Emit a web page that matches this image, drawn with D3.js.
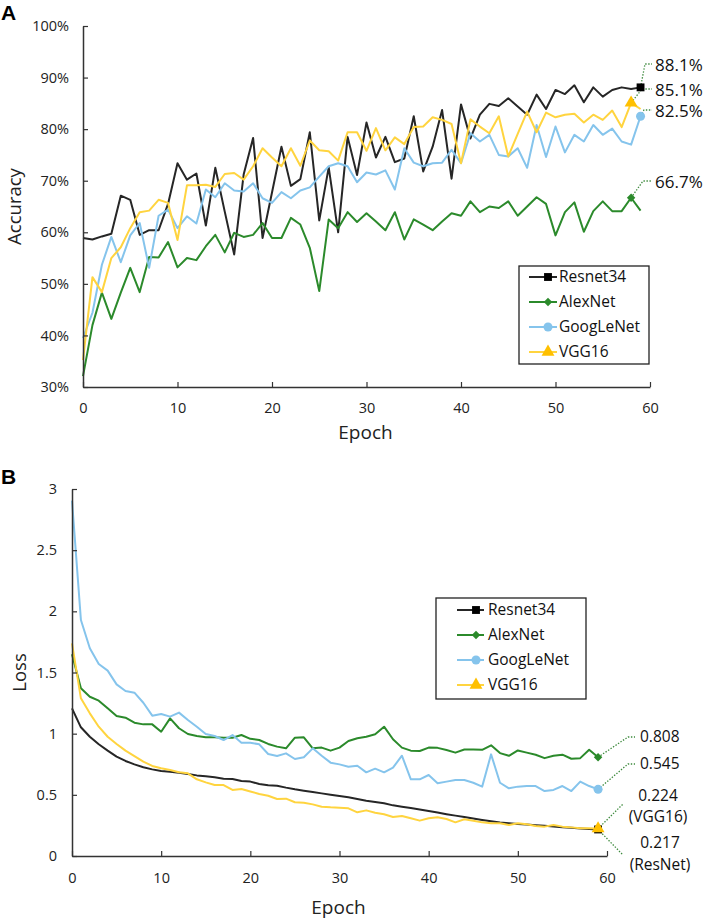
<!DOCTYPE html>
<html>
<head>
<meta charset="utf-8">
<script src="https://cdn.jsdelivr.net/npm/d3@7/dist/d3.min.js"></script>
<style>
  body { margin: 0; background: #fff; }
  svg { display: block; font-family: "Open Sans", sans-serif; }
</style>
</head>
<body>
<svg id="chart" width="706" height="921"></svg>
<script>
// ---- data ----
var seriesNames = ["Resnet34", "AlexNet", "GoogLeNet", "VGG16"];

// panel A: accuracy (%) per epoch 0..59
var resnetAcc = [58.9, 58.6, 59.2, 59.7, 67.1, 66.3, 59.5, 60.4, 60.4, 65.5,
  73.4, 70.2, 71.4, 61.3, 72.5, 64.0, 55.7, 71.2, 78.3, 58.9,
  67.7, 76.6, 69.0, 70.3, 79.4, 62.3, 72.6, 60.0, 78.5, 71.1,
  81.3, 74.5, 78.5, 73.6, 74.3, 82.5, 71.8, 76.6, 83.7, 70.4,
  84.8, 78.2, 82.8, 84.9, 84.5, 86.0, 84.4, 82.8, 86.7, 83.9,
  87.6, 86.8, 88.5, 85.2, 88.1, 86.3, 87.6, 88.1, 87.8, 88.1];
var alexAcc = [32.1, 42.0, 48.3, 43.2, 48.3, 53.1, 48.4, 55.2, 55.1, 58.1,
  53.2, 55.0, 54.6, 57.3, 59.5, 56.1, 59.9, 59.1, 59.5, 61.8,
  58.9, 58.9, 62.8, 61.5, 57.0, 48.6, 62.5, 60.8, 63.9, 62.0,
  63.7, 62.1, 60.4, 63.9, 58.6, 62.5, 61.5, 60.4, 62.1, 63.7,
  63.2, 66.0, 63.9, 65.0, 64.7, 66.0, 63.2, 65.0, 66.8, 65.5,
  59.4, 63.9, 65.8, 60.1, 64.1, 66.0, 64.1, 64.1, 66.7, 64.2];
var googAcc = [39.5, 44.4, 53.7, 59.1, 54.2, 59.4, 61.8, 53.1, 63.2, 64.4,
  60.8, 63.1, 61.7, 68.3, 66.8, 69.5, 68.1, 67.9, 69.5, 66.6,
  65.7, 67.8, 66.6, 68.1, 68.7, 70.8, 72.8, 73.4, 72.8, 69.7,
  71.6, 71.2, 72.0, 68.3, 76.3, 73.5, 72.8, 73.4, 73.5, 76.0,
  73.4, 79.2, 77.6, 78.9, 75.0, 74.7, 76.3, 72.5, 80.8, 74.6,
  80.5, 75.5, 78.9, 77.6, 80.8, 78.9, 80.1, 77.6, 77.0, 82.5];
var vggAcc = [35.2, 51.3, 48.4, 55.0, 57.1, 60.8, 63.9, 64.2, 66.3, 65.7,
  58.5, 69.1, 69.1, 69.2, 68.8, 71.3, 71.5, 70.2, 72.8, 76.3,
  74.5, 72.8, 76.3, 72.9, 77.8, 75.9, 75.7, 73.9, 79.4, 79.4,
  75.8, 80.2, 75.9, 78.4, 77.1, 80.4, 80.5, 82.3, 81.8, 81.0,
  73.4, 81.9, 80.5, 79.2, 82.5, 74.7, 79.1, 83.4, 79.4, 83.2,
  82.3, 82.8, 83.0, 81.3, 82.8, 81.8, 83.6, 80.4, 85.1, 83.9];

// panel B: loss per epoch 0..59
var resnetLoss = [1.207, 1.052, 0.975, 0.913, 0.861, 0.812, 0.777, 0.749, 0.725, 0.708,
  0.695, 0.689, 0.681, 0.670, 0.659, 0.651, 0.643, 0.632, 0.629, 0.613,
  0.608, 0.589, 0.578, 0.575, 0.559, 0.545, 0.534, 0.523, 0.512, 0.501,
  0.490, 0.480, 0.466, 0.452, 0.441, 0.431, 0.414, 0.403, 0.392, 0.381,
  0.368, 0.355, 0.342, 0.330, 0.318, 0.306, 0.295, 0.284, 0.273, 0.268,
  0.262, 0.257, 0.252, 0.247, 0.241, 0.236, 0.230, 0.225, 0.221, 0.217];
var alexLoss = [1.650, 1.371, 1.302, 1.270, 1.207, 1.144, 1.131, 1.090, 1.076, 1.076,
  1.016, 1.125, 1.044, 0.997, 0.981, 0.970, 0.970, 0.967, 0.967, 0.989,
  0.958, 0.948, 0.916, 0.894, 0.880, 0.967, 0.970, 0.880, 0.886, 0.861,
  0.886, 0.940, 0.962, 0.975, 0.995, 1.057, 0.954, 0.886, 0.861, 0.858,
  0.886, 0.884, 0.866, 0.845, 0.870, 0.870, 0.868, 0.905, 0.841, 0.819,
  0.863, 0.845, 0.828, 0.800, 0.819, 0.828, 0.795, 0.800, 0.868, 0.808];
var googLoss = [2.905, 1.929, 1.698, 1.569, 1.515, 1.403, 1.349, 1.335, 1.253, 1.147,
  1.161, 1.139, 1.172, 1.112, 1.057, 0.997, 0.981, 0.948, 0.989, 0.926,
  0.926, 0.913, 0.834, 0.817, 0.839, 0.793, 0.807, 0.880, 0.820, 0.763,
  0.749, 0.730, 0.738, 0.684, 0.714, 0.684, 0.722, 0.820, 0.627, 0.627,
  0.662, 0.594, 0.608, 0.621, 0.621, 0.599, 0.567, 0.831, 0.599, 0.553,
  0.567, 0.572, 0.572, 0.531, 0.540, 0.572, 0.531, 0.608, 0.572, 0.545];
var vggLoss = [1.738, 1.289, 1.166, 1.057, 0.975, 0.916, 0.861, 0.817, 0.771, 0.736,
  0.717, 0.703, 0.685, 0.676, 0.627, 0.602, 0.580, 0.580, 0.540, 0.548,
  0.527, 0.507, 0.493, 0.466, 0.469, 0.439, 0.436, 0.422, 0.403, 0.398,
  0.395, 0.390, 0.357, 0.373, 0.354, 0.341, 0.319, 0.327, 0.308, 0.289,
  0.308, 0.316, 0.302, 0.275, 0.300, 0.289, 0.275, 0.267, 0.267, 0.253,
  0.267, 0.259, 0.245, 0.240, 0.253, 0.240, 0.234, 0.226, 0.226, 0.224];

// tick labels
var epochTicks = [0, 10, 20, 30, 40, 50, 60];
var accTicks = [30, 40, 50, 60, 70, 80, 90, 100];
var lossTicks = [0, 0.5, 1, 1.5, 2, 2.5, 3];

// callouts: which series, which epoch, what text
var accCallouts = [
  { series: 0, epoch: 59, text: ["88.1%"] },
  { series: 3, epoch: 58, text: ["85.1%"] },
  { series: 2, epoch: 59, text: ["82.5%"] },
  { series: 1, epoch: 58, text: ["66.7%"] }
];
var lossCallouts = [
  { series: 1, epoch: 59, text: ["0.808"] },
  { series: 2, epoch: 59, text: ["0.545"] },
  { series: 3, epoch: 59, text: ["0.224", "(VGG16)"] },
  { series: 0, epoch: 59, text: ["0.217", "(ResNet)"] }
];

// ---- styling ----
var colors = ["#262626", "#2b8a2b", "#85c4ec", "#ffd43f"];
var markerFill = ["#000000", "#2b8a2b", "#85c4ec", "#ffc000"];
var symbols = [d3.symbolSquare, d3.symbolSquare, d3.symbolCircle, d3.symbolTriangle];
var symbolSize = [62, 36, 64, 72];
var symbolRotate = [0, 45, 0, 0];
var leaderColor = "#3d8a3d";

var svg = d3.select("#chart");

function marker(g, k, px, py) {
  return g.append("path")
    .attr("d", d3.symbol().type(symbols[k]).size(symbolSize[k])())
    .attr("transform", "translate(" + px + "," + py + ") rotate(" + symbolRotate[k] + ")")
    .attr("fill", markerFill[k]);
}

function drawPanel(p) {
  var g = svg.append("g");
  var x = d3.scaleLinear().domain([0, 60]).range(p.xRange);
  var y = d3.scaleLinear().domain(p.yDomain).range(p.yRange);

  var line = d3.line()
    .x(function (d, i) { return x(i); })
    .y(function (d) { return y(d); });

  p.series.forEach(function (s, k) {
    g.append("path")
      .datum(s)
      .attr("fill", "none")
      .attr("stroke", colors[k])
      .attr("stroke-width", 2)
      .attr("stroke-linejoin", "round")
      .attr("d", line);
  });

  var xAxis = g.append("g")
    .attr("transform", "translate(0," + p.yRange[0] + ")")
    .call(d3.axisBottom(x).tickValues(epochTicks).tickSizeInner(-5).tickSizeOuter(0).tickPadding(p.xPad));
  var yAxis = g.append("g")
    .attr("transform", "translate(" + p.xRange[0] + ",0)")
    .call(d3.axisLeft(y).tickValues(p.yTicks).tickFormat(p.yFormat).tickSizeInner(-5).tickSizeOuter(0).tickPadding(p.yPad));
  [xAxis, yAxis].forEach(function (a) {
    a.attr("font-family", "'Open Sans', sans-serif").attr("font-size", 14.5);
    a.select(".domain").attr("stroke", "#333").attr("stroke-width", 1.5);
    a.selectAll(".tick line").attr("stroke", "#333").attr("stroke-width", 1.2);
    a.selectAll(".tick text").attr("fill", "#222");
  });

  g.append("text")
    .attr("x", (p.xRange[0] + p.xRange[1]) / 2 - 1)
    .attr("y", p.xTitleY)
    .attr("text-anchor", "middle")
    .style("font-size", "19px").attr("fill", "#222")
    .text("Epoch");
  g.append("text")
    .attr("transform", "translate(" + p.yTitleX + "," + (p.yRange[0] + p.yRange[1]) / 2 + ") rotate(-90)")
    .attr("text-anchor", "middle")
    .style("font-size", "18.5px").attr("fill", "#222")
    .text(p.yTitle);

  g.append("text")
    .attr("x", 1).attr("y", p.letterY)
    .style("font-size", "21px").style("font-weight", "bold")
    .style("font-family", "'Liberation Sans', Arial, sans-serif")
    .text(p.letter);

  // callouts: leader line, label
  p.callouts.forEach(function (c, i) {
    var lay = p.calloutLayout[i];
    var px = x(c.epoch), py = y(p.series[c.series][c.epoch]);
    var pts = [[px, py]].concat(lay.path);
    g.append("path")
      .attr("d", d3.line()(pts))
      .attr("fill", "none")
      .attr("stroke", leaderColor)
      .attr("stroke-width", 1.3)
      .attr("stroke-dasharray", "1.4,1.6");
    c.text.forEach(function (t, j) {
      g.append("text")
        .attr("x", lay.tx).attr("y", lay.ty + j * lay.lh)
        .attr("dy", "0.35em")
        .attr("text-anchor", lay.anchor)
        .style("font-size", lay.fs + "px").attr("fill", "#111")
        .text(t);
    });
  });
  // end markers, in series order so the triangle sits on the square
  p.callouts.slice().sort(function (a, b) { return a.series - b.series; })
    .forEach(function (c) {
      marker(g, c.series, x(c.epoch), y(p.series[c.series][c.epoch]));
    });

  // legend
  var L = p.legend;
  g.append("rect")
    .attr("x", L.x).attr("y", L.y).attr("width", L.w).attr("height", L.h)
    .attr("fill", "#fff").attr("stroke", "#222").attr("stroke-width", 1.3);
  seriesNames.forEach(function (name, k) {
    var ry = L.y + L.first + k * L.step;
    g.append("line")
      .attr("x1", L.x + L.lineX0).attr("x2", L.x + L.lineX1)
      .attr("y1", ry).attr("y2", ry)
      .attr("stroke", colors[k]).attr("stroke-width", 2);
    marker(g, k, L.x + L.markX, ry);
    g.append("text")
      .attr("x", L.x + L.textX).attr("y", ry).attr("dy", "0.35em")
      .style("font-size", "15.5px").attr("fill", "#111")
      .text(name);
  });
}

drawPanel({
  series: [resnetAcc, alexAcc, googAcc, vggAcc],
  xRange: [83, 650], yRange: [387, 26], yDomain: [30, 100],
  yTicks: accTicks, yFormat: function (d) { return d + "%"; },
  xPad: 16, yPad: 14, xTitleY: 439, yTitleX: 21, yTitle: "Accuracy",
  letter: "A", letterY: 20,
  callouts: accCallouts,
  calloutLayout: [
    { path: [[645, 64], [652, 64]], tx: 655, ty: 65, lh: 0, fs: 17, anchor: "start" },
    { path: [[642, 89], [652, 89]], tx: 655, ty: 90, lh: 0, fs: 17, anchor: "start" },
    { path: [[644, 110], [652, 110]], tx: 655, ty: 111, lh: 0, fs: 17, anchor: "start" },
    { path: [[643, 181], [652, 181]], tx: 655, ty: 182, lh: 0, fs: 17, anchor: "start" }
  ],
  legend: { x: 519, y: 266, w: 130, h: 98, first: 11, step: 25, lineX0: 10, lineX1: 38, markX: 29, textX: 40 }
});

drawPanel({
  series: [resnetLoss, alexLoss, googLoss, vggLoss],
  xRange: [72, 607], yRange: [856, 489], yDomain: [0, 3],
  yTicks: lossTicks, yFormat: function (d) { return String(d); },
  xPad: 17, yPad: 15, xTitleY: 914, yTitleX: 26, yTitle: "Loss",
  letter: "B", letterY: 484,
  callouts: lossCallouts,
  calloutLayout: [
    { path: [[628, 737], [635, 737]], tx: 640, ty: 737, lh: 0, fs: 15.5, anchor: "start" },
    { path: [[628, 764], [635, 764]], tx: 640, ty: 764, lh: 0, fs: 15.5, anchor: "start" },
    { path: [[623, 804]], tx: 658, ty: 796, lh: 21, fs: 15.5, anchor: "middle" },
    { path: [[623, 855]], tx: 660, ty: 843, lh: 22, fs: 15.5, anchor: "middle" }
  ],
  legend: { x: 436, y: 598, w: 150, h: 101, first: 12, step: 25, lineX0: 21, lineX1: 48, markX: 40, textX: 52 }
});
</script>
</body>
</html>
